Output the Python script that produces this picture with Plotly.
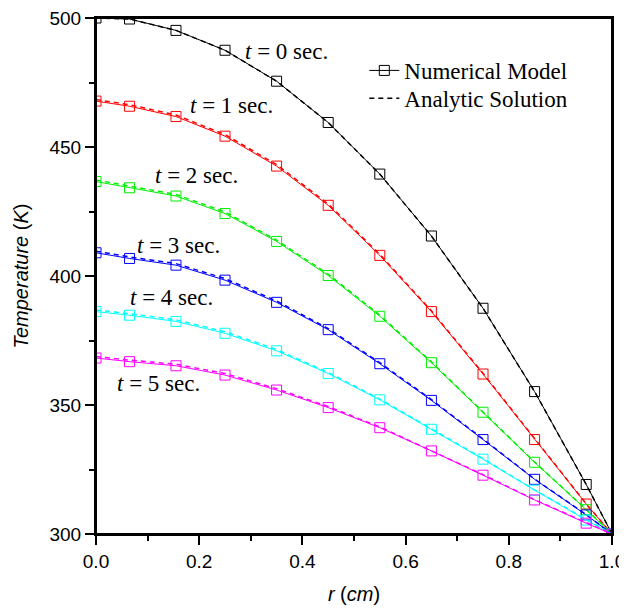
import plotly.graph_objects as go

# radial positions (cm)
r = [0, 0.065, 0.155, 0.25, 0.35, 0.45, 0.55, 0.65, 0.75, 0.85, 0.95, 1.0]

# numerical model temperatures (K) for t = 0..5 sec
num_t0 = [500.0, 499.6, 495.2, 487.5, 475.5, 459.5, 439.5, 415.5, 387.5, 355.2, 319.2, 300.0]
num_t1 = [467.8, 465.8, 461.8, 454.2, 442.6, 427.4, 408.0, 386.2, 362.0, 336.6, 311.6, 300.0]
num_t2 = [436.6, 434.2, 431.0, 424.2, 413.4, 400.2, 384.4, 366.4, 347.2, 327.8, 309.4, 300.0]
num_t3 = [409.0, 406.8, 404.2, 398.4, 389.8, 379.2, 366.0, 351.8, 336.6, 321.2, 307.4, 300.0]
num_t4 = [386.2, 384.8, 382.4, 377.8, 371.0, 362.2, 352.0, 340.6, 329.0, 317.0, 305.4, 300.0]
num_t5 = [368.2, 366.8, 365.2, 361.6, 355.8, 349.0, 341.2, 332.2, 322.8, 313.2, 304.2, 300.0]

# analytic solution temperatures (K)
ana_t0 = [500.0, 499.6, 495.2, 487.5, 475.5, 459.5, 439.5, 415.5, 387.5, 355.2, 319.2, 300.0]
ana_t1 = [468.4, 466.4, 462.4, 454.8, 443.2, 427.9, 408.4, 386.5, 362.3, 336.8, 311.7, 300.0]
ana_t2 = [437.2, 434.8, 431.6, 424.8, 413.9, 400.7, 384.8, 366.7, 347.4, 327.9, 309.5, 300.0]
ana_t3 = [409.6, 407.4, 404.8, 399.0, 390.3, 379.6, 366.4, 352.1, 336.8, 321.3, 307.5, 300.0]
ana_t4 = [386.8, 385.4, 383.0, 378.4, 371.5, 362.6, 352.3, 340.9, 329.2, 317.1, 305.5, 300.0]
ana_t5 = [368.8, 367.4, 365.8, 362.2, 356.3, 349.4, 341.5, 332.4, 323.0, 313.3, 304.3, 300.0]

numerical = [num_t0, num_t1, num_t2, num_t3, num_t4, num_t5]
analytic = [ana_t0, ana_t1, ana_t2, ana_t3, ana_t4, ana_t5]
colors = ['black', 'red', '#00ee00', 'blue', 'cyan', 'magenta']
labels = ['0', '1', '2', '3', '4', '5']
label_pos = [(286, 51), (231, 105), (196, 175), (178, 245), (171, 297), (158, 383)]

fig = go.Figure()

for num, ana, c in zip(numerical, analytic, colors):
    fig.add_trace(go.Scatter(x=r, y=num, mode='lines+markers', showlegend=False,
                             line=dict(color=c, width=1),
                             marker=dict(symbol='square-open', size=10, color=c, line=dict(width=1))))
    fig.add_trace(go.Scatter(x=r, y=ana, mode='lines', showlegend=False,
                             line=dict(color=c, width=1.5, dash='5px,4px')))

# legend entries (two legends so the row spacing can be set)
fig.add_trace(go.Scatter(x=[None], y=[None], mode='lines+markers', name='Numerical Model',
                         legend='legend',
                         line=dict(color='black', width=1),
                         marker=dict(symbol='square-open', size=10, color='black')))
fig.add_trace(go.Scatter(x=[None], y=[None], mode='lines', name='Analytic Solution',
                         legend='legend2',
                         line=dict(color='black', width=1.5, dash='5px,4px')))

# px (on the 627x613 picture) -> data helpers for label placement
def px_x(p):
    return (p - 96) / 516.0

def px_y(p):
    return 300 + (534 - p) / 2.58

for lab, (lx, ly) in zip(labels, label_pos):
    fig.add_annotation(x=px_x(lx), y=px_y(ly), xref='x', yref='y', showarrow=False,
                       text='<i>t</i> = ' + lab + ' sec.',
                       font=dict(family='Liberation Serif', size=23, color='black'))

# plot frame
fig.add_shape(type='rect', xref='paper', yref='paper', x0=0, y0=0, x1=1, y1=1,
              line=dict(color='black', width=2), layer='above')

axis_common = dict(showline=True, linecolor='black', linewidth=2, mirror=True,
                   ticks='outside', ticklen=9, tickwidth=2, tickcolor='black',
                   showgrid=False, zeroline=False, automargin=False,
                   ticklabeloverflow='allow',
                   tickfont=dict(family='Liberation Sans', size=19, color='black'))

fig.update_xaxes(range=[0, 1.0], dtick=0.2, tickformat='.1f',
                 minor=dict(dtick=0.1, ticks='outside', ticklen=5, tickwidth=2, tickcolor='black'),
                 title=dict(text='<i>r</i> (<i>cm</i>)', standoff=22,
                            font=dict(family='Liberation Sans', size=20, color='black')),
                 **axis_common)
fig.update_yaxes(range=[300, 500], dtick=50,
                 minor=dict(dtick=25, ticks='outside', ticklen=5, tickwidth=2, tickcolor='black'),
                 title=dict(text='<i>Temperature</i> (<i>K</i>)', standoff=15,
                            font=dict(family='Liberation Sans', size=20, color='black')),
                 **axis_common)

legend_font = dict(family='Liberation Serif', size=23, color='black')
fig.update_layout(width=627, height=597, margin=dict(l=88, r=23, t=10, b=71),
                  plot_bgcolor='white', paper_bgcolor='white',
                  legend=dict(x=0.52, y=0.94, xanchor='left', yanchor='top',
                              bgcolor='rgba(0,0,0,0)', font=legend_font),
                  legend2=dict(x=0.52, y=0.886, xanchor='left', yanchor='top',
                               bgcolor='rgba(0,0,0,0)', font=legend_font))

fig.write_html("out.html")
